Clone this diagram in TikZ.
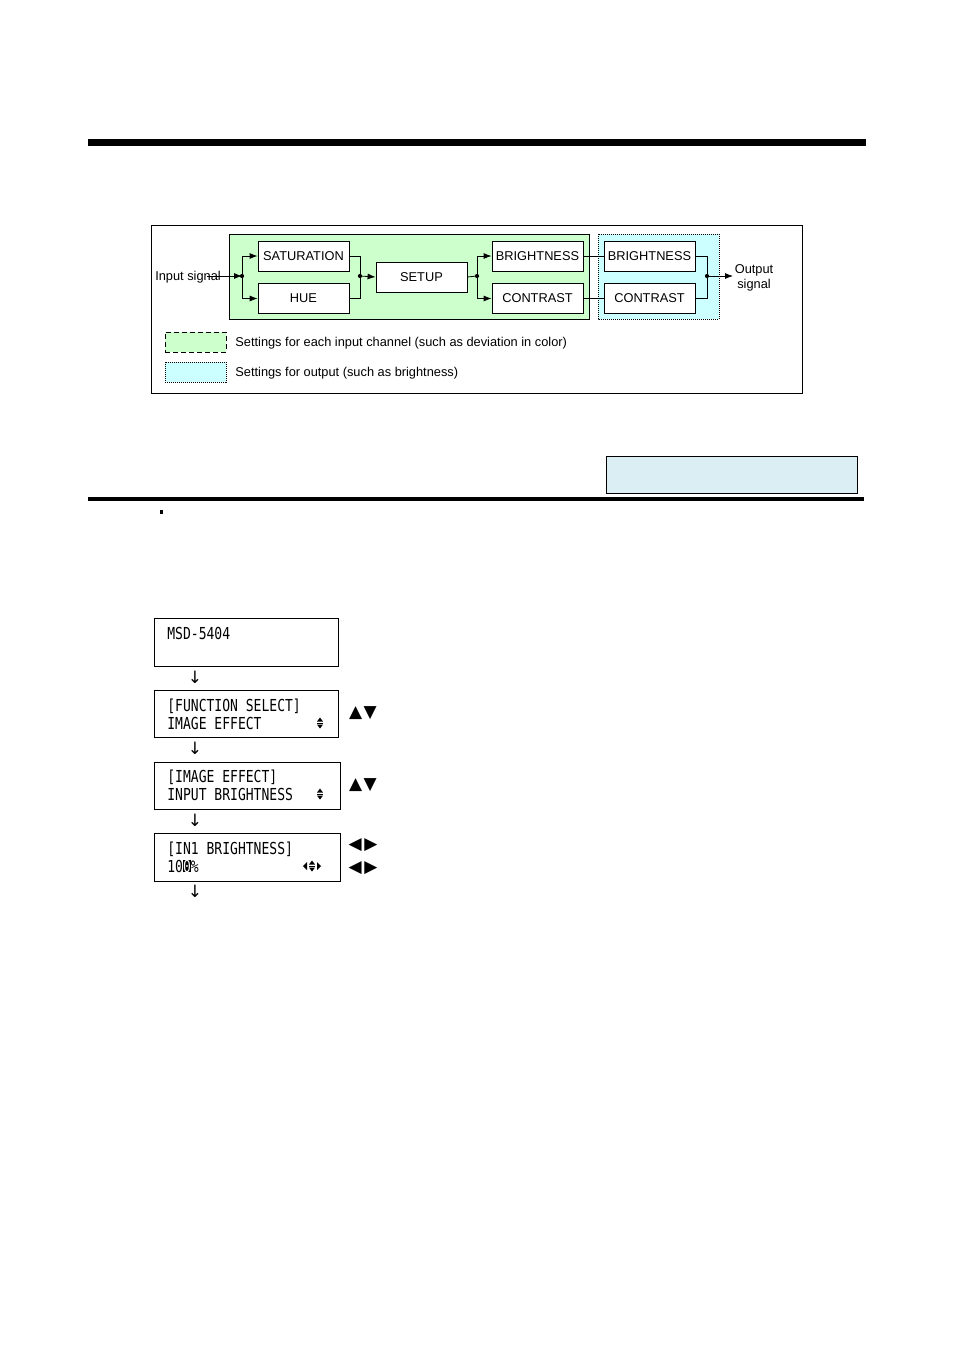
\documentclass[tikz,border=0pt]{standalone}
\usepackage{fontspec}
\setmainfont{Liberation Sans}
\newfontfamily\lcdfont[FakeStretch=0.79]{DejaVu Sans Mono}
\newfontfamily\symfont{DejaVu Sans}
\usetikzlibrary{arrows.meta}
\definecolor{ingreen}{RGB}{204,255,204}
\definecolor{outcyan}{RGB}{204,255,255}
\definecolor{noteblue}{RGB}{219,238,244}
\newcommand{\curs}[1]{{\fboxsep=0pt\colorbox{black}{\textcolor{white}{#1}}}}
\begin{document}
\begin{tikzpicture}[x=1pt,y=-1pt,line width=0.8pt,
block/.style ={rectangle, draw, fill=white,
  minimum width=91pt, minimum height=30pt, inner sep=0pt,
  font=\fontsize{12.8}{15}\selectfont
},
label/.style ={inner sep=0pt, font=\fontsize{12.8}{15}\selectfont},
lcd/.style ={rectangle, draw, line width=0.9pt, inner sep=0pt,
  minimum height=48pt
},
lcdtxt/.style ={anchor=west, align=left, inner sep=0pt,
  font=\lcdfont\fontsize{16.5}{18}\selectfont
},
key/.style ={inner sep=0pt, font=\symfont\fontsize{17}{17}\selectfont},
arr/.style ={-{Latex[length=8pt,width=6pt]}},
dot/.style ={circle, fill, inner sep=0pt, minimum size=4.2pt},
updn/.pic ={\fill (-3,-1.5) -- (3,-1.5) -- (0,-5.5) -- cycle;
  \fill (-3,1.5) -- (3,1.5) -- (0,5.5) -- cycle;
  \draw[line width=0.6pt] (-3,0) -- (3,0);}
]
\useasboundingbox (0,0) rectangle (954,1350);
% page rules
\fill (88,139) rectangle (866,146);
\fill (88,497) rectangle (864,500.5);
\fill (160,510) rectangle (163,514);
% signal flow
\draw (151,225) rectangle (802,393);
\draw[fill=ingreen] (229,234) rectangle (589,319);
\draw[fill=outcyan, dash pattern=on 1pt off 1pt] (598,234) rectangle (719,319);
\node (sat) at (303.5,256) [block] {SATURATION};
\node (hue) at (303.5,298.5) [block] {HUE};
\node (setup) at (421.5,277) [block] {SETUP};
\node (bri1) at (537.5,256) [block] {BRIGHTNESS};
\node (con1) at (537.5,298.5) [block] {CONTRAST};
\node (bri2) at (649.5,256) [block] {BRIGHTNESS};
\node (con2) at (649.5,298.5) [block] {CONTRAST};
\node (insig) at (188,277) [label] {Input signal};
\node (outsig) at (754,277.5) [label, align=center] {Output\\signal};
\coordinate (in) at (207,276);
\coordinate (out) at (733,276);
\node (j1) at (242,276) [dot] {};
\node (j2) at (360,276) [dot] {};
\node (j3) at (477,276) [dot] {};
\node (j4) at (707,276) [dot] {};
\draw[arr] (in) -- (j1.center);
\draw[arr] (j1.center) |- (sat.west);
\draw[arr] (j1.center) |- (hue.west);
\draw (sat.east) -| (j2.center);
\draw (hue.east) -| (j2.center);
\draw[arr] (j2.center) -- (setup.west);
\draw (setup.east) -- (j3.center);
\draw[arr] (j3.center) |- (bri1.west);
\draw[arr] (j3.center) |- (con1.west);
\draw (bri1) -- (bri2);
\draw (con1) -- (con2);
\draw (bri2.east) -| (j4.center);
\draw (con2.east) -| (j4.center);
\draw[arr] (j4.center) -- (out);
% legend
\node (leg1) at (195.5,342) [rectangle, draw, fill=ingreen, dash pattern=on 5pt off 3pt,
  minimum width=61pt, minimum height=20pt] {};
\node (leg2) at (195.5,372) [rectangle, draw, fill=outcyan, dash pattern=on 1pt off 1pt,
  minimum width=61pt, minimum height=20pt] {};
\node (leg1txt) at (235,343.5) [label, anchor=west] {Settings for each input channel (such as deviation in color)};
\node (leg2txt) at (235,373.5) [label, anchor=west] {Settings for output (such as brightness)};
% note box
\node (note) at (731.5,474.5) [rectangle, draw, fill=noteblue,
  minimum width=251pt, minimum height=37pt] {};
% front panel display
\node (lcd1) at (246,642) [lcd, minimum width=184pt] {};
\node (lcd2) at (246,713.5) [lcd, minimum width=184pt, minimum height=47pt] {};
\node (lcd3) at (247,785.5) [lcd, minimum width=186pt, minimum height=47pt] {};
\node (lcd4) at (247,857) [lcd, minimum width=186pt] {};
\node (txt1) at (167,633) [lcdtxt] {MSD-5404};
\node (txt2) at (167,714) [lcdtxt] {[FUNCTION SELECT]\\IMAGE EFFECT};
\node (txt3) at (167,785.5) [lcdtxt] {[IMAGE EFFECT]\\INPUT BRIGHTNESS};
\node (txt4) at (167,857) [lcdtxt] {[IN1 BRIGHTNESS]\\10\curs{0}\%};
\pic at (320,723) {updn};
\pic at (320,794) {updn};
\pic at (312,866) {updn};
\fill (307,862) -- (307,870) -- (303,866) -- cycle;
\fill (317,862) -- (317,870) -- (321,866) -- cycle;
\node (k1) at (195,677) [key] {↓};
\node (k2) at (195,748) [key] {↓};
\node (k3) at (195,820) [key] {↓};
\node (k4) at (195,891) [key] {↓};
\node (k5) at (363,713) [key] {▲\kern1.5pt▼};
\node (k6) at (363,785) [key] {▲\kern1.5pt▼};
\node (k7) at (363,845) [key] {◀\kern2.5pt▶};
\node (k8) at (363,868) [key] {◀\kern2.5pt▶};
\end{tikzpicture}
\end{document}
